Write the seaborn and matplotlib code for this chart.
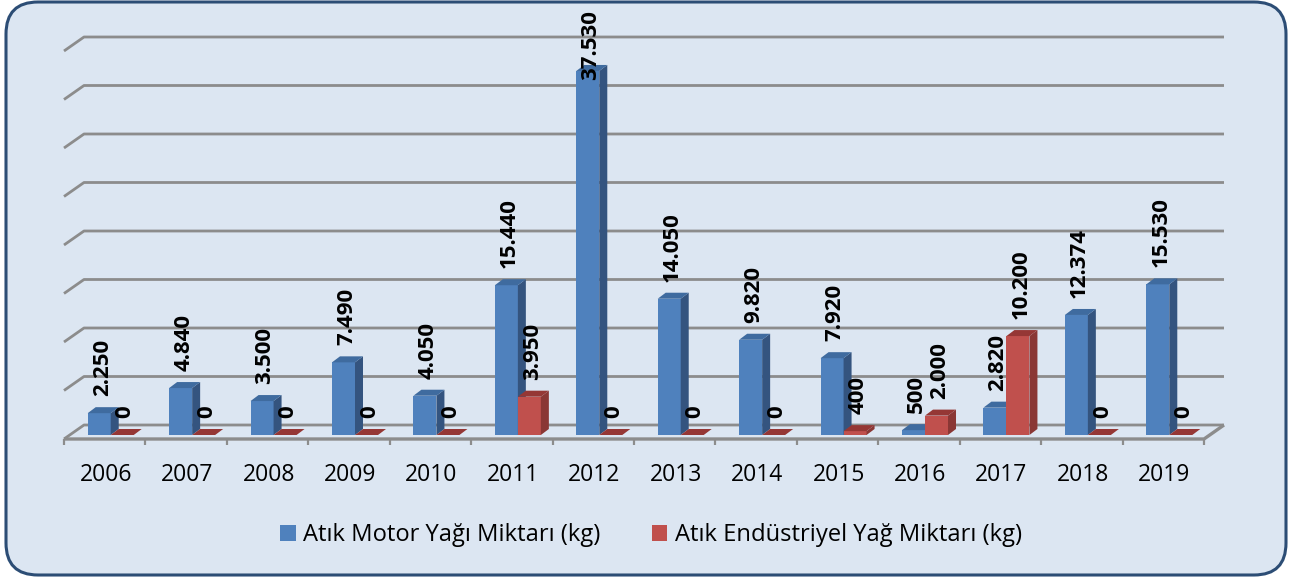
import matplotlib
matplotlib.use("Agg")
import matplotlib.pyplot as plt
from matplotlib.patches import FancyBboxPatch, Polygon
from matplotlib.transforms import IdentityTransform
import pandas as pd
import seaborn as sns

years = [2006, 2007, 2008, 2009, 2010, 2011, 2012, 2013, 2014, 2015, 2016, 2017, 2018, 2019]
motor = [2250, 4840, 3500, 7490, 4050, 15440, 37530, 14050, 9820, 7920, 500, 2820, 12374, 15530]
endustri = [0, 0, 0, 0, 0, 3950, 0, 0, 0, 400, 2000, 10200, 0, 0]
motor_name = "Atık Motor Yağı Miktarı (kg)"
endustri_name = "Atık Endüstriyel Yağ Miktarı (kg)"

W, H = 1293, 577
sns.set_theme(style="white")
plt.rcParams["font.family"] = ["Open Sans", "DejaVu Sans"]

df = pd.DataFrame({"yil": years * 2,
                   "seri": [motor_name] * len(years) + [endustri_name] * len(years),
                   "miktar": motor + endustri})

fig = plt.figure(figsize=(W / 100, H / 100), dpi=100, facecolor="white")

# arka plan paneli
panel = FancyBboxPatch((6, 2), 1280, 573, boxstyle="round,pad=0,rounding_size=32",
                       transform=IdentityTransform(), fc="#DCE6F2", ec="#2C4D75", lw=2.2, zorder=-5)
fig.patches.append(panel)

# on duzlem: -0.5 -> x=70, 13.5 -> x=1210, 0 -> y=435, 40000 -> y=47
ax = fig.add_axes([70 / W, (H - 435) / H, 1140 / W, 388 / H])
ax.patch.set_alpha(0)
sns.barplot(data=df, x="yil", y="miktar", hue="seri", hue_order=[motor_name, endustri_name],
            palette=["#4F81BD", "#C0504D"], width=0.565, gap=0, saturation=1, ax=ax, zorder=3,
            linewidth=0)
ax.set_xlim(-0.5, 13.5)
ax.set_ylim(0, 40000)
ax.axis("off")

px = 1 / (1140 / 14)      # kategori / piksel
py = 40000 / 388          # deger / piksel


def grid_line(pts, lw=2.0):
    xs = [p[0] for p in pts]
    ys = [p[1] for p in pts]
    ax.plot(xs, ys, color="#8C8C8C", lw=lw, clip_on=False, zorder=1, solid_capstyle="butt")


# duvar ve taban cizgileri
x0, x1 = -0.5, 13.5
for v in range(0, 40001, 5000):
    back_y = v + 10 * py
    front_y = v - 4 * py
    grid_line([(x0 - 6 * px, front_y), (x0 + 14 * px, back_y), (x1 + 14 * px, back_y)])
grid_line([(x0 - 6 * px, -4 * py), (x1 - 6 * px, -4 * py), (x1 + 14 * px, 10 * py)], lw=2.4)
for i in range(len(years) + 1):
    tx = x0 + i - 6 * px
    grid_line([(tx, -4 * py), (tx, -10 * py)], lw=1.6)

# 3B yan ve ust yuzler; kirmizi seri mavinin onunde
dx, dy = 8 * px, 6 * py
faces = [("#34547F", "#3F6B9F"), ("#8A3735", "#953735")]
for s, cont in enumerate(ax.containers):
    side, top = faces[s]
    for bar in cont:
        bar.set_zorder(3 + s)
        a, w, h = bar.get_x(), bar.get_width(), bar.get_height()
        ax.add_patch(Polygon([(a + w, 0), (a + w + dx, dy), (a + w + dx, h + dy), (a + w, h)],
                             fc=side, ec="none", clip_on=False, zorder=3 + s))
        ax.add_patch(Polygon([(a, h), (a + dx, h + dy), (a + w + dx, h + dy), (a + w, h)],
                             fc=top, ec="none", clip_on=False, zorder=3 + s))

# veri etiketleri
for cont, values in zip(ax.containers, [motor, endustri]):
    for bar, v in zip(cont, values):
        lift = -9 if v > 30000 else 17
        ax.text(bar.get_x() + bar.get_width() / 2 + 3 * px, v + lift * py,
                f"{v:,}".replace(",", "."), rotation=90, ha="center", va="bottom",
                fontsize=16, fontweight="bold", color="black", zorder=6, clip_on=False)

# yil etiketleri
for i, y in enumerate(years):
    ax.text(i - 5 * px, -40 * py, str(y), ha="center", va="center", fontsize=16.5,
            color="black", clip_on=False)

handles, labels = ax.get_legend_handles_labels()
ax.legend(handles, labels, ncol=2, loc="center", bbox_to_anchor=(651 / W, (H - 535) / H),
          bbox_transform=fig.transFigure, frameon=False, fontsize=17.1, handlelength=0.65,
          handleheight=0.65, handletextpad=0.32, columnspacing=2.15, labelcolor="black")

fig.savefig("out.png", dpi=100, facecolor="white")
